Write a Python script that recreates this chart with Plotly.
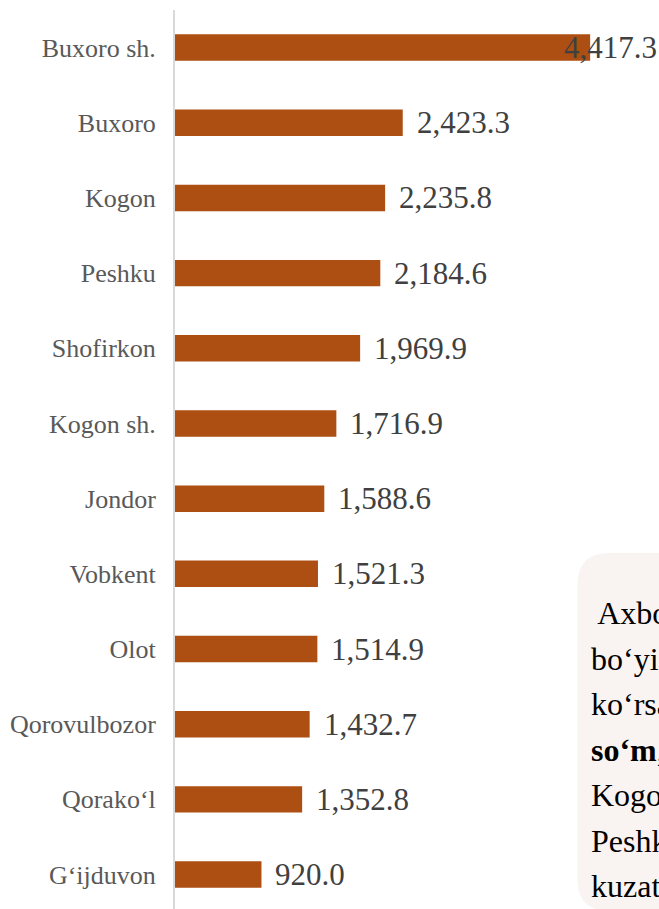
import plotly.graph_objects as go

# Data (top to bottom as in the reference)
categories = ["Buxoro sh.", "Buxoro", "Kogon", "Peshku", "Shofirkon", "Kogon sh.",
              "Jondor", "Vobkent", "Olot", "Qorovulbozor", "Qorako‘l", "G‘ijduvon"]
values = [4417.3, 2423.3, 2235.8, 2184.6, 1969.9, 1716.9,
          1588.6, 1521.3, 1514.9, 1432.7, 1352.8, 920.0]
value_labels = [f"{v:,.1f}" for v in values]

box_lines = [
    " Axborot va aloqa xizmatlari",
    "bo‘yicha eng yuqori",
    "ko‘rsatkich Buxoro shahrida <b>4 417,3 mlrd.</b>",
    "<b>so‘m</b>, undan keyingi o‘rinlarda Buxoro,",
    "Kogon tumanlari, shuningdek",
    "Peshku tumanida yuqori natija",
    "kuzatildi.",
]

W, H = 659, 909
ML, MR, MT, MB = 175, 0, 10, 0
PW, PH = W - ML - MR, H - MT - MB
XMAX = 5150

cats_rev = categories[::-1]
vals_rev = values[::-1]

fig = go.Figure()
fig.add_trace(go.Bar(
    x=vals_rev, y=cats_rev, orientation="h",
    marker=dict(color="#AD4E13", line=dict(width=0)),
    hoverinfo="skip",
))

SERIF = "Liberation Serif"
LBL_FS = 31
annotations = []
for c, v, t in zip(categories, values, value_labels):
    end_px = v / XMAX * PW
    est_w = len(t) * 0.5 * LBL_FS - 0.25 * LBL_FS * (t.count(",") + t.count("."))
    if end_px + 10 + est_w > PW - 2:
        annotations.append(dict(x=1, xref="paper", y=c, yref="y", text=t,
                                xanchor="right", yanchor="middle", xshift=0,
                                showarrow=False,
                                font=dict(family=SERIF, size=LBL_FS, color="#404040")))
    else:
        annotations.append(dict(x=v, xref="x", y=c, yref="y", text=t,
                                xanchor="left", yanchor="middle", xshift=12,
                                showarrow=False,
                                font=dict(family=SERIF, size=LBL_FS, color="#404040")))


def px_x(px):
    return (px - ML) / PW


def px_y(py):
    return 1 - (py - MT) / PH


# Text box lines
for i, line in enumerate(box_lines):
    baseline = 623 + 45.5 * i
    annotations.append(dict(x=px_x(589), xref="paper", y=px_y(baseline - 10), yref="paper",
                            text=line, xanchor="left", yanchor="middle", showarrow=False,
                            font=dict(family=SERIF, size=32, color="#000000")))

# Rounded box (extends beyond the page at right/bottom)
bx0, by0, bx1, by1, r = 577.5, 553, 760, 911, 32
path = (f"M {px_x(bx0 + r)},{px_y(by0)} L {px_x(bx1)},{px_y(by0)} "
        f"L {px_x(bx1)},{px_y(by1)} L {px_x(bx0 + r)},{px_y(by1)} "
        f"Q {px_x(bx0)},{px_y(by1)} {px_x(bx0)},{px_y(by1 - r)} "
        f"L {px_x(bx0)},{px_y(by0 + r)} "
        f"Q {px_x(bx0)},{px_y(by0)} {px_x(bx0 + r)},{px_y(by0)} Z")

fig.update_layout(
    width=W, height=H,
    margin=dict(l=ML, r=MR, t=MT, b=MB, pad=0),
    paper_bgcolor="white", plot_bgcolor="white",
    font=dict(family=SERIF),
    bargap=0.648,
    showlegend=False,
    xaxis=dict(range=[0, XMAX], visible=False, fixedrange=True),
    yaxis=dict(
        type="category",
        categoryorder="array", categoryarray=cats_rev,
        range=[-0.458, 11.5],
        showline=True, linecolor="#D9D9D9", linewidth=2,
        showgrid=False, zeroline=False, ticks="",
        ticklabelstandoff=12,
        tickfont=dict(family=SERIF, size=26, color="#595959"),
        fixedrange=True,
    ),
    annotations=annotations,
    shapes=[dict(type="path", path=path, xref="paper", yref="paper",
                 fillcolor="#F9F4F1", line=dict(width=0), layer="below")],
)

fig.write_html(
    "out.html",
    config={"displayModeBar": False},
    post_script="document.body.style.margin='0';document.body.style.overflow='hidden';",
)
